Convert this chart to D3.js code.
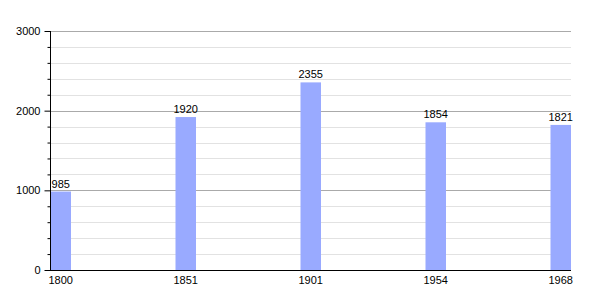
<!DOCTYPE html>
<html>
<head>
<meta charset="utf-8">
<script src="https://cdn.jsdelivr.net/npm/d3@7"></script>
<style>
  body { margin: 0; background: #fff; }
  text { font-family: "Liberation Sans", Arial, sans-serif; font-size: 11px; fill: #000; }
</style>
</head>
<body>
<div id="chart"></div>
<script>
// Population by year
var years = ["1800", "1851", "1901", "1954", "1968"];
var population = [985, 1920, 2355, 1854, 1821];
var majorTicks = [0, 1000, 2000, 3000];

function init() {
    var w = 600, h = 300;
    var left = 50, right = 571, top = 31, bottom = 270;
    var barW = 20.5;

    var svg = d3.select("#chart").append("svg")
        .attr("width", w)
        .attr("height", h);

    var y = d3.scaleLinear().domain([0, 3000]).range([bottom, top]);

    // bar positions: left edge of each bar, last bar touches the right edge
    var x = d3.scalePoint().domain(years).range([left + 0.5, right - barW]);

    // minor grid every 200
    var minor = d3.range(0, 3001, 200).filter(function(v) { return v % 1000 !== 0; });
    svg.selectAll("line.minor")
        .data(minor)
        .enter().append("line")
        .attr("x1", left).attr("x2", right)
        .attr("y1", function(d) { return Math.round(y(d)) + 0.5; })
        .attr("y2", function(d) { return Math.round(y(d)) + 0.5; })
        .attr("stroke", "#e2e2e2");

    svg.selectAll("line.major")
        .data(majorTicks.slice(1))
        .enter().append("line")
        .attr("x1", left).attr("x2", right)
        .attr("y1", function(d) { return Math.round(y(d)) + 0.5; })
        .attr("y2", function(d) { return Math.round(y(d)) + 0.5; })
        .attr("stroke", "#aaaaaa");

    // bars
    svg.selectAll("rect.bar")
        .data(population)
        .enter().append("rect")
        .attr("x", function(d, i) { return x(years[i]); })
        .attr("y", function(d) { return y(d); })
        .attr("width", barW)
        .attr("height", function(d) { return bottom - y(d); })
        .attr("fill", "#99aaff");

    // value labels
    svg.selectAll("text.val")
        .data(population)
        .enter().append("text")
        .attr("x", function(d, i) { return x(years[i]) + barW / 2; })
        .attr("y", function(d) { return y(d) - 4; })
        .attr("text-anchor", "middle")
        .text(function(d) { return d; });

    // y axis with minor ticks
    var yAxis = d3.axisLeft(y).tickValues(majorTicks).tickSize(6).tickPadding(4).tickFormat(d3.format("d"));
    var gy = svg.append("g").attr("transform", "translate(" + (left + 0.5) + ",0)").call(yAxis);
    gy.select(".domain").remove();
    gy.selectAll("text").style("font-size", "11px").attr("font-family", null);

    var yMinor = d3.axisLeft(y).tickValues(minor).tickSize(3).tickFormat("");
    var gm = svg.append("g").attr("transform", "translate(" + (left + 0.5) + ",0)").call(yMinor);
    gm.select(".domain").remove();

    svg.append("line")
        .attr("x1", left + 0.5).attr("x2", left + 0.5)
        .attr("y1", top).attr("y2", bottom)
        .attr("stroke", "#000");

    // x axis line
    svg.append("line")
        .attr("x1", left).attr("x2", right)
        .attr("y1", bottom + 0.5).attr("y2", bottom + 0.5)
        .attr("stroke", "#000");

    // x labels
    svg.selectAll("text.year")
        .data(years)
        .enter().append("text")
        .attr("x", function(d) { return x(d) + barW / 2; })
        .attr("y", bottom + 14)
        .attr("text-anchor", "middle")
        .text(function(d) { return d; });
}

window.onload = init;
</script>
</body>
</html>
